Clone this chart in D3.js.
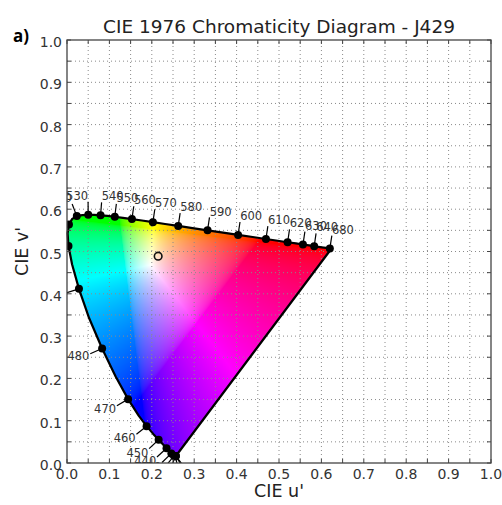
<!DOCTYPE html>
<html>
<head>
<meta charset="utf-8">
<script src="https://cdn.jsdelivr.net/npm/d3@7"></script>
<style>
  body { margin: 0; background: #fff; }
  svg { display: block; }
  .tick-label { font-family: "DejaVu Sans", sans-serif; font-size: 14px; fill: #333; }
  .wl-label { font-family: "DejaVu Sans", sans-serif; font-size: 11.5px; fill: #333; }
</style>
</head>
<body>
<script>
var w = 502, h = 505;
var margin = { top: 40, right: 11, bottom: 42, left: 67 };

// spectral locus, CIE 1976 u'v' (nm)
var wavelengths = [380,390,400,410,420,430,440,445,450,455,460,465,470,475,480,485,490,495,500,505,
  510,515,520,525,530,535,540,545,550,555,560,565,570,575,580,585,590,595,600,605,610,615,620,625,
  630,635,640,645,650,660,670,680,690,700];
var locusU = [.2568,.2564,.2557,.2545,.2522,.2461,.2347,.2266,.2161,.2033,.1877,.1690,.1441,.1147,.0828,.0521,
  .0282,.0119,.0035,.0014,.0046,.0123,.0231,.0360,.0501,.0643,.0792,.0953,.1127,.1319,.1531,.1766,.2026,.2312,
  .2623,.2960,.3315,.3681,.4035,.4379,.4692,.4968,.5203,.5399,.5565,.5709,.5830,.5929,.6005,.6109,.6162,.6199,.6226,.6234];
var locusV = [.0166,.0163,.0159,.0159,.0169,.0226,.0350,.0437,.0549,.0688,.0871,.1119,.1510,.2044,.2708,.3427,
  .4117,.4698,.5131,.5432,.5638,.5770,.5837,.5861,.5868,.5865,.5856,.5841,.5821,.5796,.5766,.5732,.5694,.5651,
  .5604,.5554,.5501,.5446,.5393,.5342,.5296,.5254,.5219,.5190,.5165,.5143,.5125,.5111,.5099,.5084,.5076,.5070,.5066,.5065];

// labelled wavelengths
var labelWl = [380,390,400,410,420,430,440,450,460,470,480,490,500,510,520,530,540,550,560,570,580,590,600,610,620,630,640,680];

// sample J429
var sampleU = [0.215];
var sampleV = [0.489];

var ticks = [0,0.1,0.2,0.3,0.4,0.5,0.6,0.7,0.8,0.9,1.0];
var minorTicks = d3.range(0, 21).map(function(i){ return i / 20; });

var xScale = d3.scaleLinear().domain([0,1]).range([margin.left, w - margin.right]);
var yScale = d3.scaleLinear().domain([0,1]).range([h - margin.bottom, margin.top]);
var pw = xScale(1) - xScale(0), ph = yScale(0) - yScale(1);

var svg = d3.select('body').append('svg').attr('width', w).attr('height', h);
var defs = svg.append('defs');

var pts = wavelengths.map(function(d, i){ return [xScale(locusU[i]), yScale(locusV[i])]; });

defs.append('clipPath').attr('id','locus')
  .append('path').attr('d', d3.line()(pts) + 'Z');
defs.append('clipPath').attr('id','plot')
  .append('rect').attr('x', xScale(0)).attr('y', yScale(1)).attr('width', pw).attr('height', ph);

// colour fill of the diagram
function uvColor(u, v) {
  var den = 6*u - 16*v + 12;
  var x = 9*u/den, y = 4*v/den;
  if (y <= 0) return [0,0,0];
  var X = x/y, Y = 1, Z = (1-x-y)/y;
  var r = 3.2406*X - 1.5372*Y - 0.4986*Z;
  var g = -0.9689*X + 1.8758*Y + 0.0415*Z;
  var b = 0.0557*X - 0.2040*Y + 1.0570*Z;
  r = Math.max(r,0); g = Math.max(g,0); b = Math.max(b,0);
  var m = Math.max(r,g,b) || 1;
  return [r/m, g/m, b/m].map(function(c){
    c = c <= 0.0031308 ? 12.92*c : 1.055*Math.pow(c, 1/2.4) - 0.055;
    return Math.round(255*c);
  });
}
var canvas = document.createElement('canvas');
canvas.width = Math.round(pw); canvas.height = Math.round(ph);
var ctx = canvas.getContext('2d');
var img = ctx.createImageData(canvas.width, canvas.height);
for (var j = 0; j < canvas.height; j++) {
  for (var i = 0; i < canvas.width; i++) {
    var c = uvColor(xScale.invert(xScale(0) + i + 0.5), yScale.invert(yScale(1) + j + 0.5));
    var k = (j*canvas.width + i)*4;
    img.data[k] = c[0]; img.data[k+1] = c[1]; img.data[k+2] = c[2]; img.data[k+3] = 255;
  }
}
ctx.putImageData(img, 0, 0);

svg.append('image')
  .attr('x', xScale(0)).attr('y', yScale(1))
  .attr('width', pw).attr('height', ph)
  .attr('preserveAspectRatio','none')
  .attr('href', canvas.toDataURL())
  .attr('clip-path','url(#locus)');

// grid
var grid = svg.append('g');
minorTicks.slice(1, -1).forEach(function(t){
  grid.append('line').attr('x1', xScale(t)).attr('x2', xScale(t)).attr('y1', yScale(0)).attr('y2', yScale(1));
  grid.append('line').attr('y1', yScale(t)).attr('y2', yScale(t)).attr('x1', xScale(0)).attr('x2', xScale(1));
});
grid.selectAll('line').attr('stroke','#8a8a8a').attr('stroke-width',1).attr('stroke-dasharray','1,3');

// locus line
svg.append('path')
  .attr('d', d3.line()(pts) + 'Z')
  .attr('fill','none').attr('stroke','#000').attr('stroke-width',2.2).attr('stroke-linejoin','round');

// wavelength markers
var marks = svg.append('g').attr('clip-path','url(#plot)');
labelWl.forEach(function(wl){
  var i = wavelengths.indexOf(wl);
  var a = pts[Math.max(i-1,0)], b = pts[Math.min(i+1, pts.length-1)];
  var dx = b[0]-a[0], dy = b[1]-a[1], len = Math.sqrt(dx*dx+dy*dy);
  var nx = dy/len, ny = -dx/len;
  var p = pts[i];
  marks.append('line')
    .attr('x1', p[0]).attr('y1', p[1])
    .attr('x2', p[0] + nx*13).attr('y2', p[1] + ny*13)
    .attr('stroke','#000').attr('stroke-width',1.2);
  marks.append('circle').attr('cx', p[0]).attr('cy', p[1]).attr('r', 4).attr('fill','#000');
  var tx = p[0] + nx*14, ty = p[1] + ny*14 + ny*5;
  var anchor = nx >= 0 ? 'start' : 'end';
  // labels that fall wholly outside the axes are hidden anyway
  if (anchor === 'end' && tx < xScale(0) + 2) return;
  if (ty > yScale(0) + 6) return;
  marks.append('text').attr('class','wl-label')
    .attr('x', tx).attr('y', ty)
    .attr('dominant-baseline','central')
    .attr('text-anchor', anchor)
    .text(wl);
});

// sample point
svg.selectAll('.sample').data(sampleU).enter().append('circle')
  .attr('class','sample')
  .attr('cx', function(d){ return xScale(d); })
  .attr('cy', function(d, i){ return yScale(sampleV[i]); })
  .attr('r', 3.8).attr('fill','none').attr('stroke','#111').attr('stroke-width',1.6);

// frame ticks
var tk = svg.append('g').attr('stroke','#444').attr('stroke-width',1);
minorTicks.forEach(function(t){
  tk.append('line').attr('x1', xScale(t)).attr('x2', xScale(t)).attr('y1', yScale(0)).attr('y2', yScale(0)-4);
  tk.append('line').attr('x1', xScale(t)).attr('x2', xScale(t)).attr('y1', yScale(1)).attr('y2', yScale(1)+4);
  tk.append('line').attr('y1', yScale(t)).attr('y2', yScale(t)).attr('x1', xScale(0)).attr('x2', xScale(0)+4);
  tk.append('line').attr('y1', yScale(t)).attr('y2', yScale(t)).attr('x1', xScale(1)).attr('x2', xScale(1)-4);
});
svg.append('rect')
  .attr('x', xScale(0)).attr('y', yScale(1)).attr('width', pw).attr('height', ph)
  .attr('fill','none').attr('stroke','#444').attr('stroke-width',1.3);

// tick labels
svg.selectAll('.xl').data(ticks).enter().append('text')
  .attr('class','tick-label').attr('text-anchor','middle')
  .attr('x', function(d){ return xScale(d); }).attr('y', yScale(0) + 16)
  .text(function(d){ return d.toFixed(1); });
svg.selectAll('.yl').data(ticks).enter().append('text')
  .attr('class','tick-label').attr('text-anchor','end').attr('dominant-baseline','central')
  .attr('x', xScale(0) - 5).attr('y', function(d){ return yScale(d) + 2; })
  .text(function(d){ return d.toFixed(1); });

// titles
svg.append('text')
  .attr('x', (xScale(0)+xScale(1))/2).attr('y', 33)
  .attr('text-anchor','middle')
  .style('font-family','"DejaVu Sans", sans-serif').style('font-size','18.5px').style('fill','#222')
  .text('CIE 1976 Chromaticity Diagram - J429');
svg.append('text')
  .attr('x', (xScale(0)+xScale(1))/2).attr('y', 497)
  .attr('text-anchor','middle')
  .style('font-family','"DejaVu Sans", sans-serif').style('font-size','17.5px').style('fill','#222')
  .text("CIE u'");
svg.append('text')
  .attr('transform','translate(28,' + ((yScale(0)+yScale(1))/2) + ') rotate(-90)')
  .attr('text-anchor','middle')
  .style('font-family','"DejaVu Sans", sans-serif').style('font-size','17.5px').style('fill','#222')
  .text("CIE v'");
svg.append('text')
  .attr('x', 13).attr('y', 42)
  .style('font-family','"Open Sans", sans-serif').style('font-size','17px').style('font-weight','bold').style('fill','#000')
  .text('a)');
</script>
</body>
</html>
